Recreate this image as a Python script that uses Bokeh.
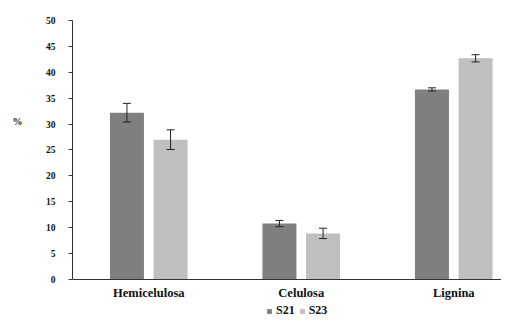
from bokeh.plotting import figure
from bokeh.models import (ColumnDataSource, Whisker, TeeHead, FixedTicker, LinearAxis,
                          Legend, LegendItem, Range1d)
from bokeh.embed import file_html
from bokeh.resources import INLINE

categories = ["Hemicelulosa", "Celulosa", "Lignina"]
s21 = [32.2, 10.8, 36.7]
s21_err = [1.8, 0.6, 0.3]
s23 = [27.0, 8.9, 42.7]
s23_err = [1.9, 1.0, 0.7]
y_ticks = [0, 5, 10, 15, 20, 25, 30, 35, 40, 45, 50]
series_names = ["S21", "S23"]
y_title = "%"
y_title_pos = 30.5

OFF = 0.143
W = 0.223
FONT = "Liberation Serif"
C21 = "#7f7f7f"
C23 = "#bfbfbf"
DARK = "#333333"
TXT = "#111111"

idx = list(range(len(categories)))
src21 = ColumnDataSource(dict(
    x=[i - OFF for i in idx], top=s21,
    upper=[v + e for v, e in zip(s21, s21_err)],
    lower=[v - e for v, e in zip(s21, s21_err)]))
src23 = ColumnDataSource(dict(
    x=[i + OFF for i in idx], top=s23,
    upper=[v + e for v, e in zip(s23, s23_err)],
    lower=[v - e for v, e in zip(s23, s23_err)]))

# frame reaches the bottom edge so the legend (drawn inside the frame) sits below the x labels
p = figure(width=501, height=318, output_backend="svg", toolbar_location=None,
           x_range=Range1d(-0.5, 2.313), y_range=Range1d(-7.53, 50),
           min_border_left=72, min_border_right=0, min_border_top=20,
           min_border_bottom=0)
p.outline_line_color = None
p.xgrid.visible = False
p.ygrid.visible = False

r21 = p.vbar(x="x", top="top", bottom=0, width=W, source=src21, fill_color=C21, line_color=None)
r23 = p.vbar(x="x", top="top", bottom=0, width=W, source=src23, fill_color=C23, line_color=None)

for src in (src21, src23):
    wk = Whisker(base="x", upper="upper", lower="lower", source=src, level="overlay",
                 line_color="#222222", line_width=1,
                 upper_head=TeeHead(size=8, line_color="#222222", line_width=1),
                 lower_head=TeeHead(size=8, line_color="#222222", line_width=1))
    p.add_layout(wk)

# x axis, pinned at y = 0
p.xaxis.fixed_location = 0
p.xaxis.ticker = FixedTicker(ticks=idx)
p.xaxis.major_label_overrides = {i: c for i, c in zip(idx, categories)}
p.xaxis.major_tick_line_color = None
p.xaxis.major_tick_out = 0
p.xaxis.major_tick_in = 0
p.xaxis.minor_tick_line_color = None
p.xaxis.axis_line_color = DARK
p.xaxis.major_label_text_font = FONT
p.xaxis.major_label_text_font_style = "bold"
p.xaxis.major_label_text_font_size = "12.5px"
p.xaxis.major_label_text_color = TXT
p.xaxis.major_label_standoff = 7

# y axis
p.yaxis.ticker = FixedTicker(ticks=y_ticks)
p.yaxis.bounds = (y_ticks[0], y_ticks[-1])
p.yaxis.minor_tick_line_color = None
p.yaxis.major_tick_in = 0
p.yaxis.major_tick_out = 4
p.yaxis.major_tick_line_color = DARK
p.yaxis.axis_line_color = DARK
p.yaxis.major_label_text_font = FONT
p.yaxis.major_label_text_font_style = "bold"
p.yaxis.major_label_text_font_size = "9.5px"
p.yaxis.major_label_text_color = TXT
p.yaxis.major_label_standoff = 13

# horizontal "%" title as an outer label-only axis
title_axis = LinearAxis(ticker=FixedTicker(ticks=[y_title_pos]),
                        major_label_overrides={y_title_pos: y_title},
                        axis_line_color=None, major_tick_line_color=None,
                        minor_tick_line_color=None, major_tick_in=0, major_tick_out=0,
                        major_label_standoff=20,
                        major_label_text_font=FONT, major_label_text_font_style="bold",
                        major_label_text_font_size="10px", major_label_text_color=TXT)
p.add_layout(title_axis, "left")

legend = Legend(items=[LegendItem(label=series_names[0], renderers=[r21]),
                       LegendItem(label=series_names[1], renderers=[r23])],
                location=(194, 0), orientation="horizontal",
                glyph_width=6, glyph_height=6, label_height=12, label_width=10,
                label_standoff=4, spacing=4, padding=0, margin=0,
                border_line_color=None, background_fill_alpha=0,
                label_text_font=FONT, label_text_font_style="bold",
                label_text_font_size="12px", label_text_color=TXT)
p.add_layout(legend)

open("out.html", "w").write(file_html(p, INLINE))
